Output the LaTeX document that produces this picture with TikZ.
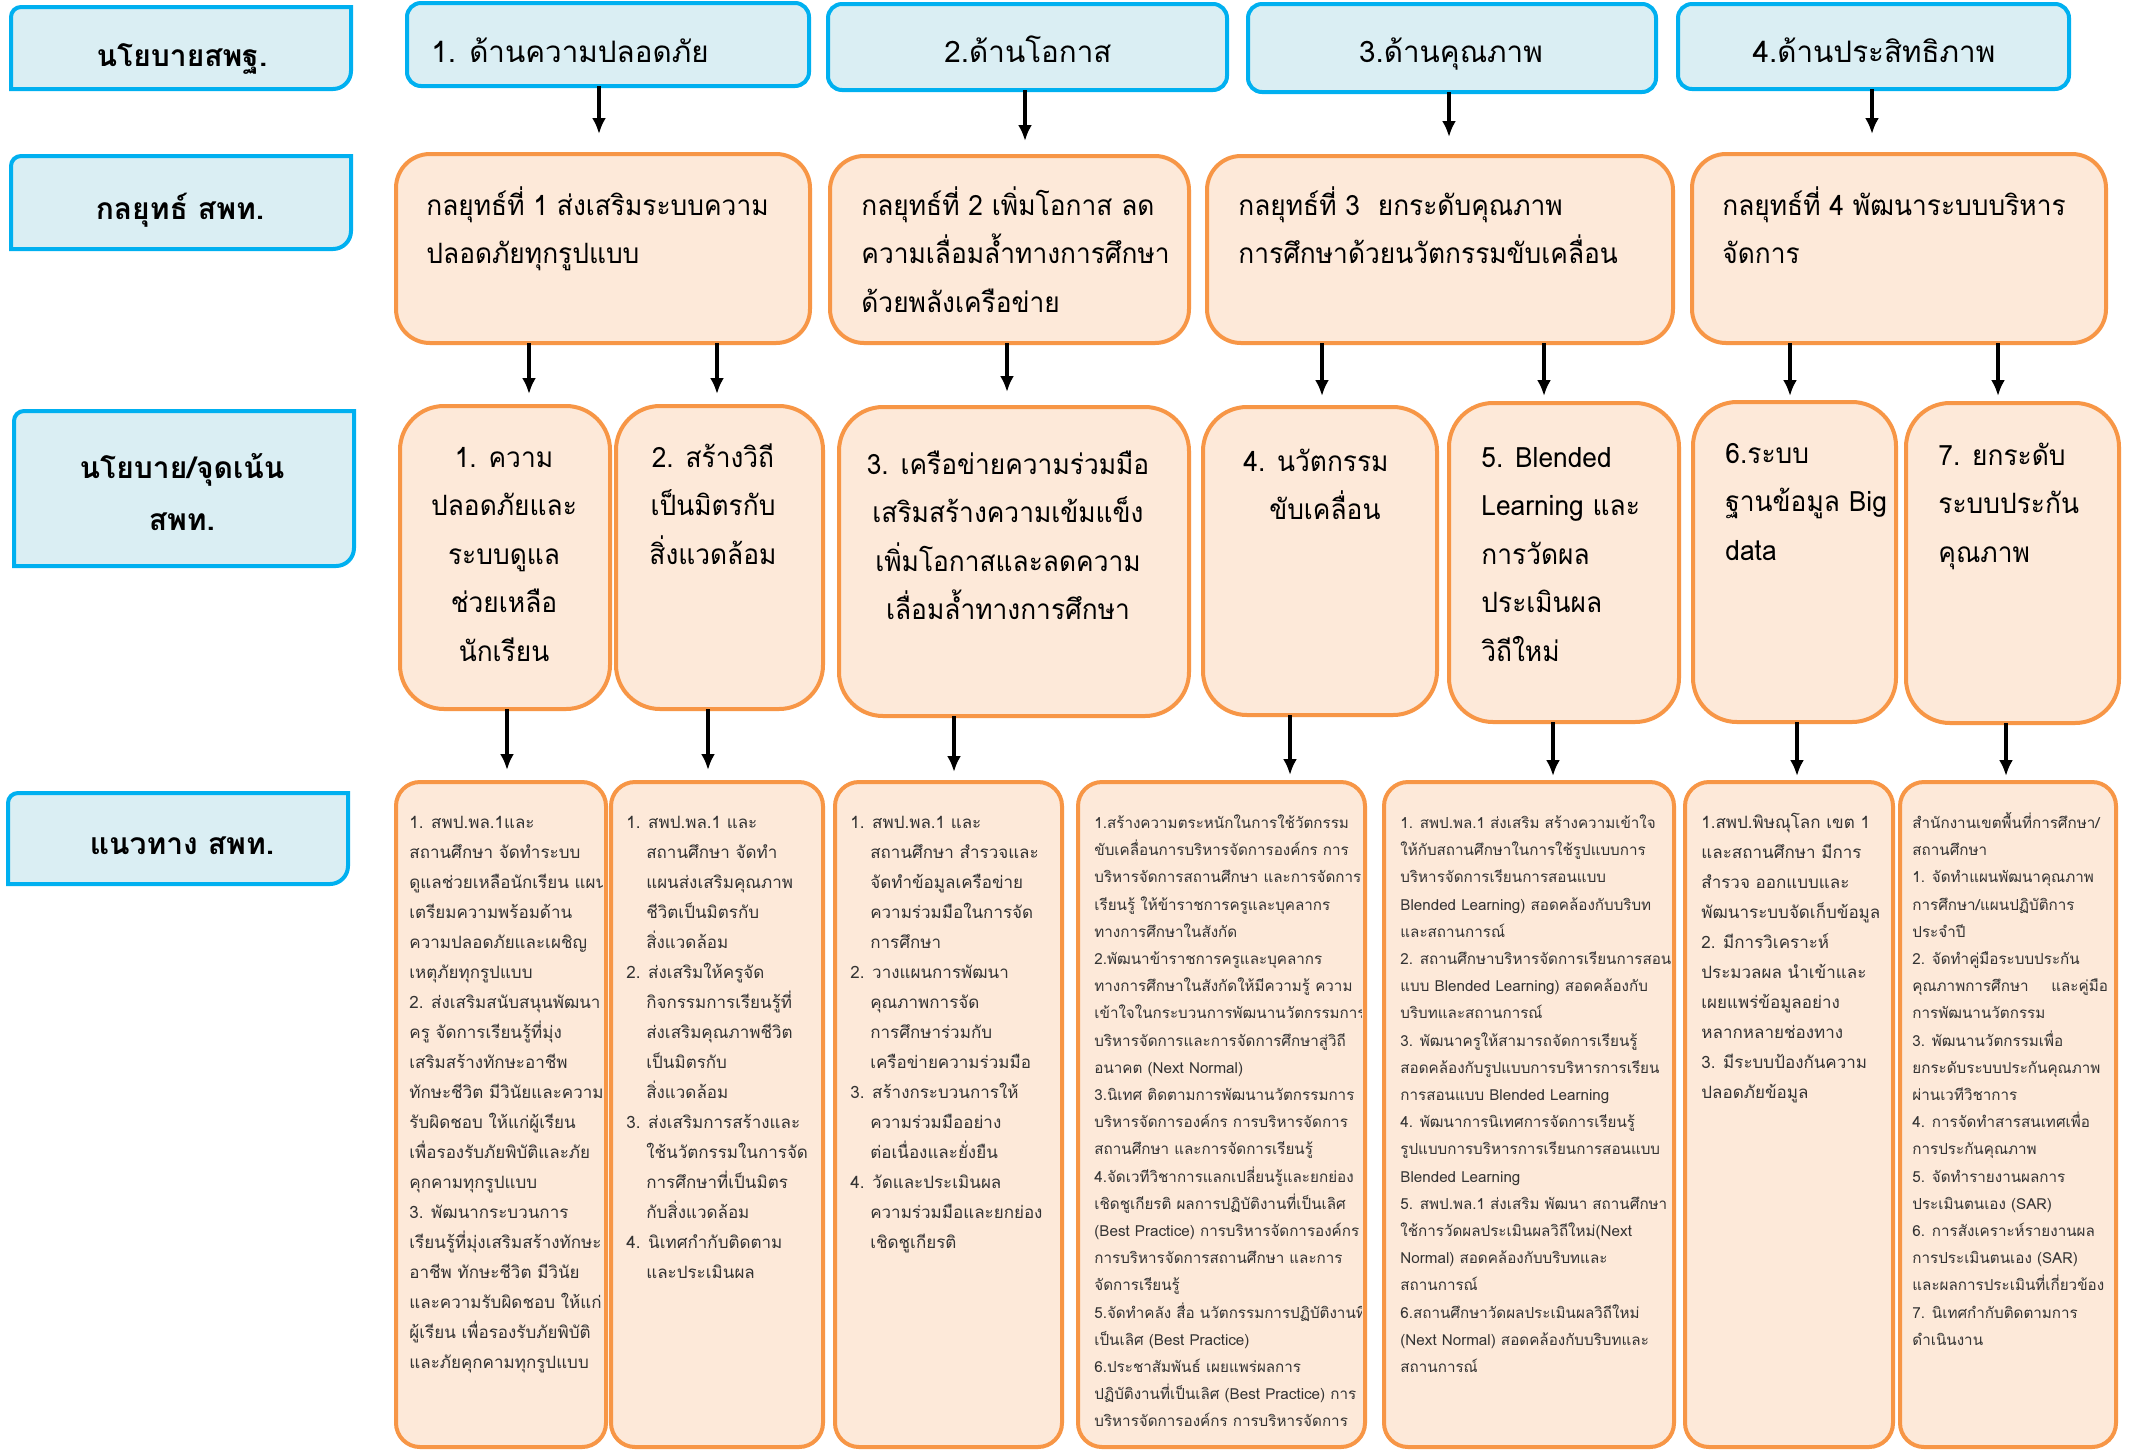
\documentclass[tikz,border=0pt]{standalone}
\usepackage{fontspec}
\setmainfont[Script=Thai]{Loma}
\newfontfamily\thaicond[Script=Thai,FakeStretch=0.94]{Loma}
\usetikzlibrary{arrows.meta}
\definecolor{bfill}{HTML}{DAEEF3}
\definecolor{bline}{HTML}{00B0F0}
\definecolor{ofill}{HTML}{FDE9D9}
\definecolor{oline}{HTML}{F79646}
\definecolor{txtgray}{HTML}{333333}
\newcommand\mybox[6]{\node[#6,minimum width={(#4-#2)*0.5pt},minimum height={(#5-#3)*0.5pt}] (#1) at ({(#2+#4)/2},{-(#3+#5)/2}) {};}
\newcommand\lblshape[4]{\draw[lblbox] (#1,-#4) -- (#1,{-#2-10}) arc[start angle=180,end angle=90,radius=10] -- (#3,-#2) -- (#3,{-#4+18}) arc[start angle=0,end angle=-90,radius=18] -- cycle;}
\newcommand\hi{\hphantom{1.\ }}
\newcommand\bs{\rule{0pt}{12pt}}
\newcommand\ts{\rule{0pt}{22pt}}
\begin{document}
\begin{tikzpicture}[x=0.5pt,y=0.5pt,
  hdr/.style={draw=bline,fill=bfill,line width=2pt,rounded corners=7pt,inner sep=0,outer sep=0},
  strat/.style={draw=oline,fill=ofill,line width=2pt,rounded corners=17pt,inner sep=0,outer sep=0},
  focus/.style={draw=oline,fill=ofill,line width=2pt,rounded corners=22pt,inner sep=0,outer sep=0},
  guide/.style={draw=oline,fill=ofill,line width=2pt,rounded corners=12pt,inner sep=0,outer sep=0},
  lblbox/.style={draw=bline,fill=bfill,line width=2pt},
  lbltxt/.style={font=\bfseries\fontsize{15}{26}\selectfont,align=center,inner sep=0,anchor=base},
  hdrtxt/.style={font=\fontsize{14.8}{24}\selectfont,inner sep=0,anchor=base},
  bigtxt/.style={font=\thaicond\fontsize{14}{24.25}\selectfont,inner sep=0},
  smalltxt/.style={font=\fontsize{8.5}{15}\selectfont,inner sep=0,anchor=north west,align=left,text=txtgray},
  smalltxtb/.style={smalltxt,font=\fontsize{7.6}{13.6}\selectfont},
  arr/.style={line width=1.6pt,-{Latex[length=8pt,width=7pt]}}
]
\fill[white] (0,0) rectangle (2143,-1453);
\useasboundingbox (0,0) rectangle (2143,-1453);
% left labels
\lblshape{11}{7}{351}{89}
\lblshape{11}{156}{351}{249}
\lblshape{14}{411}{354}{566}
\lblshape{8}{793}{348}{884}
\node[lbltxt] (L1) at (182,-66) {นโยบายสพฐ.};
\node[lbltxt] (L2) at (180,-219) {กลยุทธ์ สพท.};
\node[lbltxt,anchor=north] (L3) at (182,{-(478-44)}) {\ts นโยบาย/จุดเน้น\\สพท.};
\node[lbltxt] (L4) at (182,-854) {แนวทาง สพท.};
% headers
\mybox{H1}{407}{3}{809}{86}{hdr}
\mybox{H2}{828}{4}{1227}{90}{hdr}
\mybox{H3}{1248}{4}{1656}{92}{hdr}
\mybox{H4}{1678}{4}{2069}{89}{hdr}
\node[hdrtxt] (H1t) at (570,-62) {1. ด้านความปลอดภัย};
\node[hdrtxt] (H2t) at (1028,-62) {2.ด้านโอกาส};
\node[hdrtxt] (H3t) at (1451,-62) {3.ด้านคุณภาพ};
\node[hdrtxt] (H4t) at (1874,-62) {4.ด้านประสิทธิภาพ};
% strategies
\mybox{S1}{396}{154}{810}{343}{strat}
\mybox{S2}{830}{156}{1189}{343}{strat}
\mybox{S3}{1207}{156}{1673}{343}{strat}
\mybox{S4}{1692}{154}{2106}{343}{strat}
\node[bigtxt,anchor=north west,align=left] (S1t) at (426,{-(215-44)}) {\ts กลยุทธ์ที่ 1 ส่งเสริมระบบความ\\ปลอดภัยทุกรูปแบบ};
\node[bigtxt,anchor=north west,align=left] (S2t) at (861,{-(215-44)}) {\ts กลยุทธ์ที่ 2 เพิ่มโอกาส ลด\\ความเลื่อมล้ำทางการศึกษา\\ด้วยพลังเครือข่าย};
\node[bigtxt,anchor=north west,align=left] (S3t) at (1238,{-(215-44)}) {\ts กลยุทธ์ที่ 3\ \ ยกระดับคุณภาพ\\การศึกษาด้วยนวัตกรรมขับเคลื่อน};
\node[bigtxt,anchor=north west,align=left] (S4t) at (1722,{-(215-44)}) {\ts กลยุทธ์ที่ 4 พัฒนาระบบบริหาร\\จัดการ};
% focus
\mybox{F1}{400}{406}{610}{709}{focus}
\mybox{F2}{616}{406}{823}{709}{focus}
\mybox{F3}{839}{407}{1189}{716}{focus}
\mybox{F4}{1203}{407}{1437}{715}{focus}
\mybox{F5}{1449}{403}{1679}{722}{focus}
\mybox{F6}{1693}{402}{1896}{722}{focus}
\mybox{F7}{1906}{403}{2119}{723}{focus}
\node[bigtxt,anchor=north,align=center] (F1t) at (504,{-(467-44)}) {\ts 1. ความ\\ปลอดภัยและ\\ระบบดูแล\\ช่วยเหลือ\\นักเรียน};
\node[bigtxt,anchor=north,align=center] (F2t) at (713,{-(467-44)}) {\ts 2. สร้างวิถี\\เป็นมิตรกับ\\สิ่งแวดล้อม};
\node[bigtxt,anchor=north,align=center] (F3t) at (1008,{-(474-44)}) {\ts 3. เครือข่ายความร่วมมือ\\เสริมสร้างความเข้มแข็ง\\เพิ่มโอกาสและลดความ\\เลื่อมล้ำทางการศึกษา};
\node[bigtxt,anchor=north,align=center] (F4t) at (1316,{-(471-44)}) {\ts 4. นวัตกรรม\\\ \ ขับเคลื่อน};
\node[bigtxt,anchor=north west,align=left] (F5t) at (1481,{-(467-44)}) {\ts 5. Blended\\Learning และ\\การวัดผล\\ประเมินผล\\วิถีใหม่};
\node[bigtxt,anchor=north west,align=left] (F6t) at (1725,{-(463-44)}) {\ts 6.ระบบ\\ฐานข้อมูล Big\\data};
\node[bigtxt,anchor=north west,align=left] (F7t) at (1938,{-(465-44)}) {\ts 7. ยกระดับ\\ระบบประกัน\\คุณภาพ};
% guidelines
\mybox{G1}{396}{782}{606}{1447}{guide}
\mybox{G2}{611}{782}{823}{1447}{guide}
\mybox{G3}{835}{782}{1062}{1447}{guide}
\mybox{G4}{1078}{782}{1365}{1447}{guide}
\mybox{G5}{1384}{782}{1674}{1447}{guide}
\mybox{G6}{1685}{782}{1893}{1447}{guide}
\mybox{G7}{1900}{782}{2116}{1447}{guide}
\begin{scope}
\clip (G1.north west) rectangle ([xshift=-2pt]G1.south east);
\node[smalltxt] (G1t) at (409,-804) {\bs 1. สพป.พล.1และ\\สถานศึกษา จัดทำระบบ\\ดูแลช่วยเหลือนักเรียน แผน\\เตรียมความพร้อมด้าน\\ความปลอดภัยและเผชิญ\\เหตุภัยทุกรูปแบบ\\2. ส่งเสริมสนับสนุนพัฒนา\\ครู จัดการเรียนรู้ที่มุ่ง\\เสริมสร้างทักษะอาชีพ\\ทักษะชีวิต มีวินัยและความ\\รับผิดชอบ ให้แก่ผู้เรียน\\เพื่อรองรับภัยพิบัติและภัย\\คุกคามทุกรูปแบบ\\3. พัฒนากระบวนการ\\เรียนรู้ที่มุ่งเสริมสร้างทักษะ\\อาชีพ ทักษะชีวิต มีวินัย\\และความรับผิดชอบ ให้แก่\\ผู้เรียน เพื่อรองรับภัยพิบัติ\\และภัยคุกคามทุกรูปแบบ};
\end{scope}
\node[smalltxt] (G2t) at (626,-804) {\bs 1. สพป.พล.1 และ\\\hi สถานศึกษา จัดทำ\\\hi แผนส่งเสริมคุณภาพ\\\hi ชีวิตเป็นมิตรกับ\\\hi สิ่งแวดล้อม\\2. ส่งเสริมให้ครูจัด\\\hi กิจกรรมการเรียนรู้ที่\\\hi ส่งเสริมคุณภาพชีวิต\\\hi เป็นมิตรกับ\\\hi สิ่งแวดล้อม\\3. ส่งเสริมการสร้างและ\\\hi ใช้นวัตกรรมในการจัด\\\hi การศึกษาที่เป็นมิตร\\\hi กับสิ่งแวดล้อม\\4. นิเทศกำกับติดตาม\\\hi และประเมินผล};
\node[smalltxt] (G3t) at (850,-804) {\bs 1. สพป.พล.1 และ\\\hi สถานศึกษา สำรวจและ\\\hi จัดทำข้อมูลเครือข่าย\\\hi ความร่วมมือในการจัด\\\hi การศึกษา\\2. วางแผนการพัฒนา\\\hi คุณภาพการจัด\\\hi การศึกษาร่วมกับ\\\hi เครือข่ายความร่วมมือ\\3. สร้างกระบวนการให้\\\hi ความร่วมมืออย่าง\\\hi ต่อเนื่องและยั่งยืน\\4. วัดและประเมินผล\\\hi ความร่วมมือและยกย่อง\\\hi เชิดชูเกียรติ};
\begin{scope}
\clip (G4.north west) rectangle ([xshift=-2pt]G4.south east);
\node[smalltxtb] (G4t) at (1094,-804) {\bs 1.สร้างความตระหนักในการใช้วัตกรรม\\ขับเคลื่อนการบริหารจัดการองค์กร การ\\บริหารจัดการสถานศึกษา และการจัดการ\\เรียนรู้ ให้ข้าราชการครูและบุคลากร\\ทางการศึกษาในสังกัด\\2.พัฒนาข้าราชการครูและบุคลากร\\ทางการศึกษาในสังกัดให้มีความรู้ ความ\\เข้าใจในกระบวนการพัฒนานวัตกรรมการ\\บริหารจัดการและการจัดการศึกษาสู่วิถี\\อนาคต (Next Normal)\\3.นิเทศ ติดตามการพัฒนานวัตกรรมการ\\บริหารจัดการองค์กร การบริหารจัดการ\\สถานศึกษา และการจัดการเรียนรู้\\4.จัดเวทีวิชาการแลกเปลี่ยนรู้และยกย่อง\\เชิดชูเกียรติ ผลการปฏิบัติงานที่เป็นเลิศ\\(Best Practice) การบริหารจัดการองค์กร\\การบริหารจัดการสถานศึกษา และการ\\จัดการเรียนรู้\\5.จัดทำคลัง สื่อ นวัตกรรมการปฏิบัติงานที่\\เป็นเลิศ (Best Practice)\\6.ประชาสัมพันธ์ เผยแพร่ผลการ\\ปฏิบัติงานที่เป็นเลิศ (Best Practice) การ\\บริหารจัดการองค์กร การบริหารจัดการ};
\end{scope}
\begin{scope}
\clip (G5.north west) rectangle ([xshift=-2pt]G5.south east);
\node[smalltxtb] (G5t) at (1400,-804) {\bs 1. สพป.พล.1 ส่งเสริม สร้างความเข้าใจ\\ให้กับสถานศึกษาในการใช้รูปแบบการ\\บริหารจัดการเรียนการสอนแบบ\\Blended Learning) สอดคล้องกับบริบท\\และสถานการณ์\\2. สถานศึกษาบริหารจัดการเรียนการสอน\\แบบ Blended Learning) สอดคล้องกับ\\บริบทและสถานการณ์\\3. พัฒนาครูให้สามารถจัดการเรียนรู้\\สอดคล้องกับรูปแบบการบริหารการเรียน\\การสอนแบบ Blended Learning\\4. พัฒนาการนิเทศการจัดการเรียนรู้\\รูปแบบการบริหารการเรียนการสอนแบบ\\Blended Learning\\5. สพป.พล.1 ส่งเสริม พัฒนา สถานศึกษา\\ใช้การวัดผลประเมินผลวิถีใหม่(Next\\Normal) สอดคล้องกับบริบทและ\\สถานการณ์\\6.สถานศึกษาวัดผลประเมินผลวิถีใหม่\\(Next Normal) สอดคล้องกับบริบทและ\\สถานการณ์};
\end{scope}
\node[smalltxt] (G6t) at (1701,-804) {\bs 1.สพป.พิษณุโลก เขต 1\\และสถานศึกษา มีการ\\สำรวจ ออกแบบและ\\พัฒนาระบบจัดเก็บข้อมูล\\2. มีการวิเคราะห์\\ประมวลผล นำเข้าและ\\เผยแพร่ข้อมูลอย่าง\\หลากหลายช่องทาง\\3. มีระบบป้องกันความ\\ปลอดภัยข้อมูล};
\node[smalltxtb] (G7t) at (1912,-804) {\bs สำนักงานเขตพื้นที่การศึกษา/\\สถานศึกษา\\1. จัดทำแผนพัฒนาคุณภาพ\\การศึกษา/แผนปฏิบัติการ\\ประจำปี\\2. จัดทำคู่มือระบบประกัน\\คุณภาพการศึกษา\hspace{1.5em}และคู่มือ\\การพัฒนานวัตกรรม\\3. พัฒนานวัตกรรมเพื่อ\\ยกระดับระบบประกันคุณภาพ\\ผ่านเวทีวิชาการ\\4. การจัดทำสารสนเทศเพื่อ\\การประกันคุณภาพ\\5. จัดทำรายงานผลการ\\ประเมินตนเอง (SAR)\\6. การสังเคราะห์รายงานผล\\การประเมินตนเอง (SAR)\\และผลการประเมินที่เกี่ยวข้อง\\7. นิเทศกำกับติดตามการ\\ดำเนินงาน};
% arrows
\coordinate (a1) at (599,-134);
\coordinate (a2) at (1025,-141);
\coordinate (a3) at (1449,-137);
\coordinate (a4) at (1872,-134);
\draw[arr] (a1 |- H1.south) -- (a1);
\draw[arr] (a2 |- H2.south) -- (a2);
\draw[arr] (a3 |- H3.south) -- (a3);
\draw[arr] (a4 |- H4.south) -- (a4);
\coordinate (b1) at (529,-394);
\coordinate (b2) at (717,-394);
\coordinate (b3) at (1007,-392);
\coordinate (b4) at (1322,-396);
\coordinate (b5) at (1544,-396);
\coordinate (b6) at (1790,-396);
\coordinate (b7) at (1998,-396);
\draw[arr] (b1 |- S1.south) -- (b1);
\draw[arr] (b2 |- S1.south) -- (b2);
\draw[arr] (b3 |- S2.south) -- (b3);
\draw[arr] (b4 |- S3.south) -- (b4);
\draw[arr] (b5 |- S3.south) -- (b5);
\draw[arr] (b6 |- S4.south) -- (b6);
\draw[arr] (b7 |- S4.south) -- (b7);
\coordinate (c1) at (507,-770);
\coordinate (c2) at (708,-770);
\coordinate (c3) at (954,-772);
\coordinate (c4) at (1290,-775);
\coordinate (c5) at (1553,-776);
\coordinate (c6) at (1797,-776);
\coordinate (c7) at (2006,-776);
\draw[arr] (c1 |- F1.south) -- (c1);
\draw[arr] (c2 |- F2.south) -- (c2);
\draw[arr] (c3 |- F3.south) -- (c3);
\draw[arr] (c4 |- F4.south) -- (c4);
\draw[arr] (c5 |- F5.south) -- (c5);
\draw[arr] (c6 |- F6.south) -- (c6);
\draw[arr] (c7 |- F7.south) -- (c7);
\end{tikzpicture}
\end{document}
